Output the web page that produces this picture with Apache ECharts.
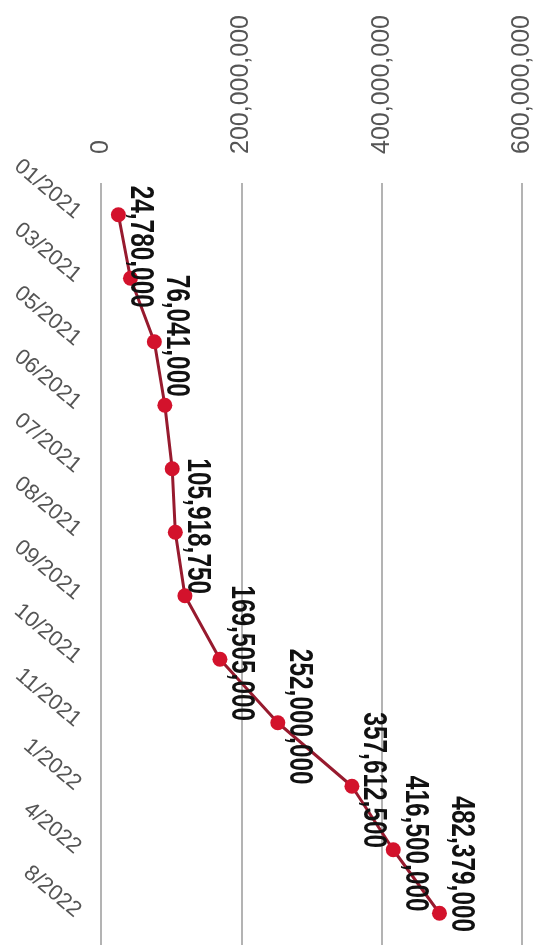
<!DOCTYPE html>
<html>
<head>
<meta charset="utf-8">
<script src="https://cdn.jsdelivr.net/npm/echarts@6/dist/echarts.min.js"></script>
<style>
html,body{margin:0;padding:0;background:#fff;}
#c{width:542px;height:951px;}
</style>
</head>
<body>
<div id="c"></div>
<script>
var categories = ['01/2021','03/2021','05/2021','06/2021','07/2021','08/2021','09/2021','10/2021','11/2021','1/2022','4/2022','8/2022'];
var values = [24780000, 42000000, 76041000, 91000000, 101500000, 105918750, 119600000, 169505000, 252000000, 357612500, 416500000, 482379000];
var labelled = [true, false, true, false, false, true, false, true, true, true, true, true];
var axisTicks = [0, 200000000, 400000000, 600000000];

function fmt(v){ return String(v).replace(/\B(?=(\d{3})+(?!\d))/g, ','); }

// per-point label shifts along the category direction (layout only)
var shift = {0: 32, 11: -49};

var FONT = '"Liberation Sans", Arial, sans-serif';

var chart = echarts.init(document.getElementById('c'));
chart.setOption({
  backgroundColor: '#ffffff',
  animation: false,
  grid: {left: 101, right: 20, top: 183, bottom: 6, containLabel: false, outerBoundsMode: 'none'},
  xAxis: {
    type: 'value',
    position: 'top',
    min: axisTicks[0],
    max: axisTicks[axisTicks.length - 1],
    interval: axisTicks[1] - axisTicks[0],
    axisLine: {show: false},
    axisTick: {show: false},
    axisLabel: {
      rotate: -90,
      margin: 29,
      color: '#555555',
      fontFamily: FONT,
      fontSize: 25,
      formatter: function(v){ return fmt(v); }
    },
    splitLine: {show: true, lineStyle: {color: '#9a9a9a', width: 1.5}}
  },
  yAxis: {
    type: 'category',
    inverse: true,
    data: categories,
    boundaryGap: true,
    axisLine: {show: false},
    axisTick: {show: false},
    axisLabel: {
      rotate: -40,
      margin: 23,
      color: '#555555',
      fontFamily: FONT,
      fontSize: 22,
      interval: 0
    },
    splitLine: {show: false}
  },
  series: [{
    type: 'line',
    data: values,
    symbol: 'circle',
    symbolSize: 15,
    lineStyle: {color: '#971a2e', width: 3},
    itemStyle: {color: '#d3122c'},
    label: {show: false},
    z: 2
  }, {
    type: 'custom',
    data: values.map(function(v, i){ return [v, i]; }),
    encode: {x: 0, y: 1},
    z: 5,
    silent: true,
    renderItem: function(params, api){
      var i = params.dataIndex;
      if (!labelled[i]) return null;
      var p = api.coord([api.value(0), api.value(1)]);
      return {
        type: 'text',
        x: p[0] + 5,
        y: p[1] + (shift[i] !== undefined ? shift[i] : -6),
        rotation: -Math.PI / 2,
        scaleX: 0.74,
        style: {
          text: fmt(values[i]),
          fill: '#111111',
          font: 'bold 33px ' + FONT,
          textAlign: 'center',
          textVerticalAlign: 'bottom'
        }
      };
    }
  }]
});
</script>
</body>
</html>
